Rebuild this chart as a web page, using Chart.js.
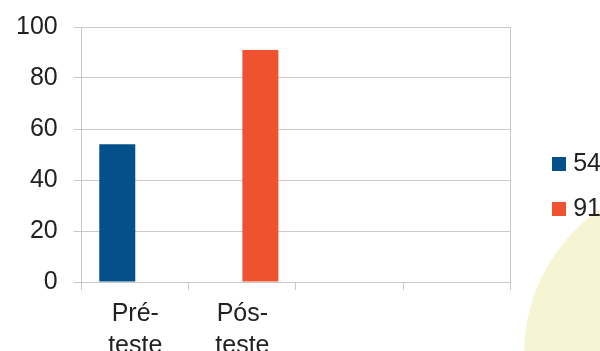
<!DOCTYPE html>
<html>
<head>
<meta charset="utf-8">
<script src="https://cdn.jsdelivr.net/npm/chart.js@4"></script>
<style>
    html, body { margin: 0; padding: 0; width: 600px; height: 351px; overflow: hidden; background: #fff; }
    #fundo { position: absolute; left: 524px; top: 178px; width: 352px; height: 352px; border-radius: 50%; background: #f5f5d3; }
    #quadro { position: absolute; left: 0; top: 0; width: 611px; height: 373px; }
</style>
</head>
<body>
<div id="fundo"></div>
<div id="quadro"><canvas id="grafico" width="611" height="373"></canvas></div>
<script>
const categorias = [['Pré-', 'teste'], ['Pós-', 'teste'], '', ''];
const nomesSeries = ['54', '91'];
const serie54 = [54, null, null, null];
const serie91 = [null, 91, null, null];
const ticksY = [0, 20, 40, 60, 80, 100];

const corGrade = '#c9c9c9';
const coresSeries = ['#03508a', '#ef522e'];
const fonte = { family: '"Liberation Sans", Arial, sans-serif', size: 25 };

// quadradinho da legenda desenhado num canvas pequeno
function marcador(cor) {
    const c = document.createElement('canvas');
    c.width = 14;
    c.height = 14;
    const g = c.getContext('2d');
    g.fillStyle = cor;
    g.fillRect(0, 0, 14, 14);
    return c;
}

new Chart(document.getElementById('grafico'), {
    type: 'bar',
    data: {
        labels: categorias,
        datasets: [
            { label: nomesSeries[0], data: serie54, backgroundColor: coresSeries[0], pointStyle: marcador(coresSeries[0]) },
            { label: nomesSeries[1], data: serie91, backgroundColor: coresSeries[1], pointStyle: marcador(coresSeries[1]) }
        ]
    },
    options: {
        responsive: false,
        animation: false,
        events: [],
        categoryPercentage: 0.672,
        barPercentage: 1,
        plugins: {
            legend: {
                position: 'right',
                labels: { usePointStyle: true, pointStyleWidth: 3, boxHeight: 14, padding: 20, color: '#222', font: fonte }
            },
            tooltip: { enabled: false }
        },
        scales: {
            x: {
                grid: { offset: true, drawOnChartArea: false, tickLength: 8, color: corGrade },
                border: { color: corGrade },
                ticks: { color: '#222', font: { ...fonte, lineHeight: 1.28 }, padding: 8, maxRotation: 0, autoSkip: false },
                afterFit: s => { s.height = 91; }
            },
            y: {
                min: ticksY[0],
                max: ticksY[ticksY.length - 1],
                afterBuildTicks: s => { s.ticks = ticksY.map(v => ({ value: v })); },
                grid: { color: corGrade, tickLength: 8 },
                border: { color: corGrade },
                ticks: { color: '#222', font: { ...fonte, lineHeight: 0.88 }, padding: 16 }
            },
            margem: {
                type: 'linear',
                position: 'right',
                grid: { display: false },
                border: { color: corGrade },
                ticks: { display: false },
                afterFit: s => { s.width = 27.5; }
            }
        }
    }
});
</script>
</body>
</html>
